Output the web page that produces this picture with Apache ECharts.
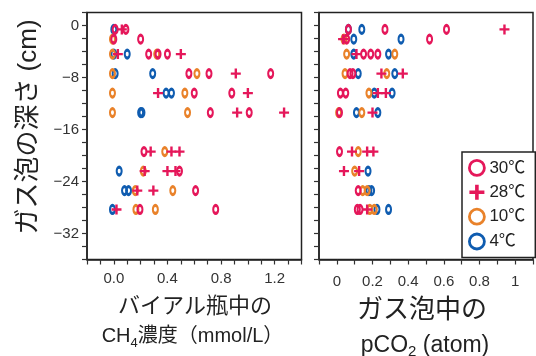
<!DOCTYPE html>
<html>
<head>
<meta charset="utf-8">
<script src="https://cdn.jsdelivr.net/npm/echarts@6/dist/echarts.min.js"></script>
<style>
  html, body { margin: 0; padding: 0; background: #fff; }
  #chart { width: 536px; height: 356px; }
</style>
</head>
<body>
<div id="chart"></div>
<script>
// Legend names (temperature of incubation)
const seriesNames = ['30℃', '28℃', '10℃', '4℃'];

// Axis settings
const depthMin = -36, depthMax = 2, depthStep = 2;      // depth axis (cm)
const ch4Min = -0.2, ch4Max = 1.4, ch4Step = 0.1;       // CH4 axis (mmol/L)
const co2Min = -0.1, co2Max = 1.1, co2Step = 0.1;       // pCO2 axis (atm)

// CH4 concentration in vial vs bubble depth: [value, depth]
const ch4_30 = [[0.01,-0.6],[0.09,-0.6],[0.00,-2.1],[0.20,-2.1],[0.26,-4.4],[0.33,-4.4],[0.40,-4.4],
  [0.56,-7.4],[0.71,-7.4],[1.17,-7.4],[0.60,-10.4],[0.88,-10.4],[0.72,-13.4],[1.01,-13.4],
  [0.225,-19.4],[0.49,-22.4],[0.61,-25.4],[0.195,-28.3],[0.76,-28.3]];
const ch4_28 = [[0.06,-0.6],[0.03,-4.4],[0.50,-4.4],[0.91,-7.4],[0.33,-10.4],[1.00,-10.4],
  [0.92,-13.4],[1.27,-13.4],[0.275,-19.4],[0.43,-19.4],[0.49,-19.4],[0.23,-22.4],[0.40,-22.4],
  [0.46,-22.4],[0.175,-25.4],[0.295,-25.4],[0.02,-28.3]];
const ch4_10 = [[-0.01,-2.1],[-0.01,-4.4],[0.32,-4.4],[-0.01,-7.4],[0.62,-7.4],[-0.01,-10.4],
  [0.53,-10.4],[-0.01,-13.4],[0.55,-13.4],[0.38,-19.4],[0.22,-22.4],[0.16,-25.4],[0.44,-25.4],
  [0.165,-28.3],[0.31,-28.3]];
const ch4_4 = [[0.00,-0.6],[0.00,-4.4],[0.10,-4.4],[0.01,-7.4],[0.29,-7.4],[0.39,-10.4],
  [0.43,-10.4],[0.20,-13.4],[0.21,-13.4],[0.04,-22.4],[0.08,-25.4],[0.11,-25.4],[-0.01,-28.3]];

// pCO2 in gas bubble vs bubble depth: [value, depth]
const co2_30 = [[0.065,-0.6],[0.27,-0.6],[0.615,-0.6],[0.055,-2.1],[0.52,-2.1],[0.15,-4.4],
  [0.19,-4.4],[0.23,-4.4],[0.074,-7.4],[0.09,-7.4],[0.02,-10.4],[0.05,-10.4],[0.015,-13.4],
  [0.015,-19.4],[0.12,-25.4],[0.115,-28.3],[0.13,-28.3]];
const co2_28 = [[0.94,-0.6],[0.035,-2.1],[0.11,-4.4],[0.25,-7.4],[0.37,-7.4],[0.23,-10.4],
  [0.275,-10.4],[0.20,-13.4],[0.085,-19.4],[0.17,-19.4],[0.205,-19.4],[0.04,-22.4],[0.125,-22.4],
  [0.17,-28.3]];
const co2_10 = [[0.04,-2.1],[0.055,-4.4],[0.325,-4.4],[0.046,-7.4],[0.28,-7.4],[0.18,-10.4],
  [0.01,-13.4],[0.14,-13.4],[0.12,-19.4],[0.10,-22.4],[0.145,-25.4],[0.17,-25.4],[0.185,-28.3],
  [0.21,-28.3]];
const co2_4 = [[0.065,-0.6],[0.14,-0.6],[0.095,-2.1],[0.36,-2.1],[0.095,-4.4],[0.29,-4.4],
  [0.12,-7.4],[0.325,-7.4],[0.21,-10.4],[0.31,-10.4],[0.11,-13.4],[0.23,-13.4],[0.175,-22.4],
  [0.18,-25.4],[0.195,-25.4],[0.225,-28.3],[0.29,-28.3]];

const RED = '#e5175a', ORANGE = '#e9822a', BLUE = '#0f5cb0';
const PLUS = 'path://M3.8,0h2.4v10h-2.4zM0,3.8h10v2.4h-10z';
const LATIN = 'Liberation Sans, Arial, Noto Sans CJK JP, sans-serif';
const JP = 'Liberation Sans, Noto Sans CJK JP, sans-serif';
const INK = '#222';

function ringSeries(name, color, data, idx) {
  return {
    type: 'scatter', name, data, xAxisIndex: idx, yAxisIndex: idx,
    symbol: 'circle', symbolSize: [5, 8],
    itemStyle: { color: 'rgba(0,0,0,0)', borderColor: color, borderWidth: 2.5, opacity: 1 },
    emphasis: { disabled: true }, silent: true
  };
}
function plusSeries(name, color, data, idx) {
  return {
    type: 'scatter', name, data, xAxisIndex: idx, yAxisIndex: idx,
    symbol: PLUS, symbolSize: 10,
    itemStyle: { color: color, opacity: 1 },
    emphasis: { disabled: true }, silent: true
  };
}

function xAxisCfg(idx, min, max, step, fmt, margin) {
  return {
    gridIndex: idx, type: 'value', min, max, interval: step,
    axisLine: { show: true, onZero: false, lineStyle: { color: INK, width: 1.5 } },
    axisTick: { show: true, length: 5, lineStyle: { color: '#333', width: 1.2 } },
    splitLine: { show: false },
    axisLabel: { formatter: fmt, fontSize: 15, color: '#333', fontFamily: LATIN, margin }
  };
}
function yAxisCfg(idx, showLabels) {
  return {
    gridIndex: idx, type: 'value', min: depthMin, max: depthMax, interval: depthStep,
    axisLine: { show: true, onZero: false, lineStyle: { color: INK, width: 1.5 } },
    axisTick: { show: true, length: 5, lineStyle: { color: '#333', width: 1.2 } },
    splitLine: { show: false },
    axisLabel: {
      show: showLabels, fontSize: 15, color: '#333', fontFamily: LATIN, margin: 8,
      padding: [0, 0, 8, 0],
      formatter: v => (v <= 0 && Math.round(v) % 8 === 0) ? (v === 0 ? '0' : '\u2212' + (-v)) : ''
    }
  };
}

const ch4Fmt = v => { const k = Math.round(v * 10); return (k >= 0 && k % 4 === 0) ? (k / 10).toFixed(1) : ''; };
const co2Fmt = v => { const k = Math.round(v * 10); return (k >= 0 && k <= 10 && k % 2 === 0) ? (k === 0 ? '0' : k === 10 ? '1' : String(k / 10)) : ''; };

// Lay out a line of text runs (for subscripts) centred on cx; each run sits on its own baseline.
const measureCtx = document.createElement('canvas').getContext('2d');
function textWidth(text, font) { measureCtx.font = font; return measureCtx.measureText(text).width; }
function textRun(runs, cx) {
  const widths = runs.map(r => textWidth(r.text, r.size + 'px ' + r.family));
  const total = widths.reduce((a, b) => a + b, 0);
  let x = cx - total / 2;
  return runs.map((r, i) => {
    const el = {
      type: 'text', x: x, y: r.baseline - 0.3465 * r.size,
      style: { text: r.text, fill: INK, font: r.size + 'px ' + r.family, align: 'left', verticalAlign: 'middle' }
    };
    x += widths[i];
    return el;
  });
}

const gridBox = { show: true, borderColor: INK, borderWidth: 1.5, backgroundColor: 'transparent' };

const option = {
  animation: false,
  backgroundColor: '#fff',
  grid: [
    Object.assign({ left: 87, top: 12.5, width: 214.5, height: 247 }, gridBox),
    Object.assign({ left: 319, top: 12.5, width: 214.5, height: 247 }, gridBox)
  ],
  xAxis: [
    xAxisCfg(0, ch4Min, ch4Max, ch4Step, ch4Fmt, 12),
    xAxisCfg(1, co2Min, co2Max, co2Step, co2Fmt, 15)
  ],
  yAxis: [yAxisCfg(0, true), yAxisCfg(1, false)],
  legend: {
    orient: 'vertical', left: 462, top: 152,
    padding: [7, 10, 7, 6], itemWidth: 15, itemHeight: 15, itemGap: 7,
    backgroundColor: '#fff', borderColor: INK, borderWidth: 1.5, borderRadius: 0,
    selectedMode: false,
    textStyle: { fontSize: 17, color: INK, fontFamily: JP },
    data: [
      { name: seriesNames[0], icon: 'circle', itemStyle: { color: 'rgba(0,0,0,0)', borderColor: RED, borderWidth: 2.8 } },
      { name: seriesNames[1], icon: PLUS },
      { name: seriesNames[2], icon: 'circle', itemStyle: { color: 'rgba(0,0,0,0)', borderColor: ORANGE, borderWidth: 2.8 } },
      { name: seriesNames[3], icon: 'circle', itemStyle: { color: 'rgba(0,0,0,0)', borderColor: BLUE, borderWidth: 2.8 } }
    ]
  },
  series: [
    ringSeries(seriesNames[3], BLUE, ch4_4, 0),
    ringSeries(seriesNames[2], ORANGE, ch4_10, 0),
    plusSeries(seriesNames[1], RED, ch4_28, 0),
    ringSeries(seriesNames[0], RED, ch4_30, 0),
    ringSeries(seriesNames[3], BLUE, co2_4, 1),
    ringSeries(seriesNames[2], ORANGE, co2_10, 1),
    plusSeries(seriesNames[1], RED, co2_28, 1),
    ringSeries(seriesNames[0], RED, co2_30, 1)
  ],
  graphic: [
    { type: 'text', x: 28.5, y: 127, rotation: Math.PI / 2,
      style: { text: 'ガス泡の深さ (cm)', fill: INK, font: '26px ' + JP, align: 'center', verticalAlign: 'middle' } },
    { type: 'text', x: 195, y: 307,
      style: { text: 'バイアル瓶中の', fill: INK, font: '22px ' + JP, align: 'center', verticalAlign: 'middle' } },
    { type: 'text', x: 422, y: 311,
      style: { text: 'ガス泡中の', fill: INK, font: '26px ' + JP, align: 'center', verticalAlign: 'middle' } }
  ].concat(
    textRun([
      { text: 'CH', size: 20, family: JP, baseline: 343 },
      { text: '4', size: 13, family: LATIN, baseline: 348 },
      { text: '濃度（mmol/L）', size: 20, family: JP, baseline: 343 }
    ], 192.5),
    textRun([
      { text: 'pCO', size: 23, family: LATIN, baseline: 353.5 },
      { text: '2', size: 15, family: LATIN, baseline: 357 },
      { text: ' (atom)', size: 23, family: LATIN, baseline: 353.5 }
    ], 425)
  )
};

const chart = echarts.init(document.getElementById('chart'), null, { renderer: 'canvas' });
chart.setOption(option);
</script>
</body>
</html>
